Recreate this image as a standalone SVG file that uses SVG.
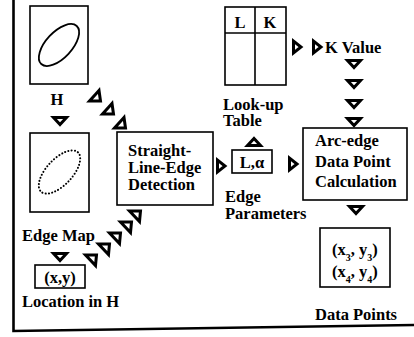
<svg xmlns="http://www.w3.org/2000/svg" xmlns:xlink="http://www.w3.org/1999/xlink" width="414" height="337" viewBox="0 0 414 337">
<style>
text{font-family:"Liberation Serif","Times New Roman",serif;font-weight:bold;font-size:16.5px;fill:#000}
.box{fill:none;stroke:#000;stroke-width:1.6}
.tri{fill:#fff;stroke:#000;stroke-width:3;stroke-linejoin:miter}
.frame{fill:none;stroke:#000;stroke-width:2.6}
.mid{text-anchor:middle}
</style>
<defs>
<polygon id="tdown" class="tri" points="-6.5,-3.5 6.5,-3.5 0,3.5"/>
<polygon id="tup" class="tri" points="-6.5,3.5 6.5,3.5 0,-3.5"/>
<polygon id="tright" class="tri" points="-3.5,-6 -3.5,6 4,0"/>
<polygon id="tse" class="tri" points="4,-5.5 -5.5,5 5.5,5"/>
<polygon id="tne" class="tri" points="-5.5,-5 5.5,-5 4.5,5.5"/>
</defs>
<rect width="414" height="337" fill="#fff"/>
<path class="frame" d="M13.5,0 V331 L414,325"/>

<g id="imageH">
<rect class="box" x="30" y="6" width="58" height="78"/>
<ellipse cx="59" cy="45" rx="26" ry="13" transform="rotate(-47 59 45)" fill="none" stroke="#000" stroke-width="1.8"/>
<text class="mid" x="57" y="105">H</text>
</g>

<g id="edgeMap">
<rect class="box" x="30" y="133" width="59" height="79"/>
<ellipse cx="59.5" cy="172" rx="27" ry="13" transform="rotate(-47 59.5 172)" fill="none" stroke="#000" stroke-width="2" stroke-dasharray="0.1 3.2" stroke-linecap="round"/>
<text x="22" y="241">Edge Map</text>
</g>

<g id="location">
<rect class="box" x="35" y="265" width="50" height="23"/>
<text class="mid" x="60" y="283">(x,y)</text>
<text x="22" y="307">Location in H</text>
</g>

<g id="detection">
<rect class="box" x="117" y="132" width="96" height="73"/>
<text x="128" y="156">Straight-</text>
<text x="128" y="173">Line-Edge</text>
<text x="128" y="190">Detection</text>
</g>

<g id="lookup">
<rect class="box" x="225" y="7" width="61" height="78"/>
<line class="box" x1="255" y1="7" x2="255" y2="85"/>
<line class="box" x1="225" y1="33" x2="286" y2="33"/>
<text class="mid" x="240" y="28">L</text>
<text class="mid" x="270" y="28">K</text>
<text x="223" y="110">Look-up</text>
<text x="223" y="126">Table</text>
</g>

<g id="edgeParams">
<rect class="box" x="232" y="150" width="40" height="23"/>
<text class="mid" x="252" y="168">L,α</text>
<text x="225" y="202">Edge</text>
<text x="225" y="219">Parameters</text>
</g>

<g id="kvalue">
<text x="325" y="53">K Value</text>
</g>

<g id="arcEdge">
<rect class="box" x="303" y="128" width="104" height="72"/>
<text x="315" y="146">Arc-edge</text>
<text x="315" y="167">Data Point</text>
<text x="315" y="187">Calculation</text>
</g>

<g id="dataPoints">
<rect class="box" x="320" y="228" width="70" height="59"/>
<text x="332" y="255">(x<tspan font-size="10" dy="6">3</tspan><tspan dy="-6">, y</tspan><tspan font-size="10" dy="6">3</tspan><tspan dy="-6">)</tspan></text>
<text x="332" y="277">(x<tspan font-size="10" dy="6">4</tspan><tspan dy="-6">, y</tspan><tspan font-size="10" dy="6">4</tspan><tspan dy="-6">)</tspan></text>
<text x="315" y="320">Data Points</text>
</g>

<g id="connectors">
<use xlink:href="#tdown" x="60" y="121"/>
<use xlink:href="#tse" x="95" y="96"/>
<use xlink:href="#tse" x="108" y="109"/>
<use xlink:href="#tse" x="120" y="123"/>
<use xlink:href="#tdown" x="60" y="257"/>
<use xlink:href="#tne" x="91" y="260"/>
<use xlink:href="#tne" x="104" y="249"/>
<use xlink:href="#tne" x="115" y="238"/>
<use xlink:href="#tne" x="126" y="227"/>
<use xlink:href="#tne" x="135" y="216"/>
<use xlink:href="#tright" x="221" y="166"/>
<use xlink:href="#tup" x="254" y="142"/>
<use xlink:href="#tright" x="293" y="164"/>
<use xlink:href="#tright" x="297" y="47"/>
<use xlink:href="#tright" x="317" y="47"/>
<use xlink:href="#tdown" x="354" y="64"/>
<use xlink:href="#tdown" x="354" y="84"/>
<use xlink:href="#tdown" x="354" y="104"/>
<use xlink:href="#tdown" x="354" y="122"/>
<use xlink:href="#tdown" x="356" y="210"/>
</g>
</svg>
